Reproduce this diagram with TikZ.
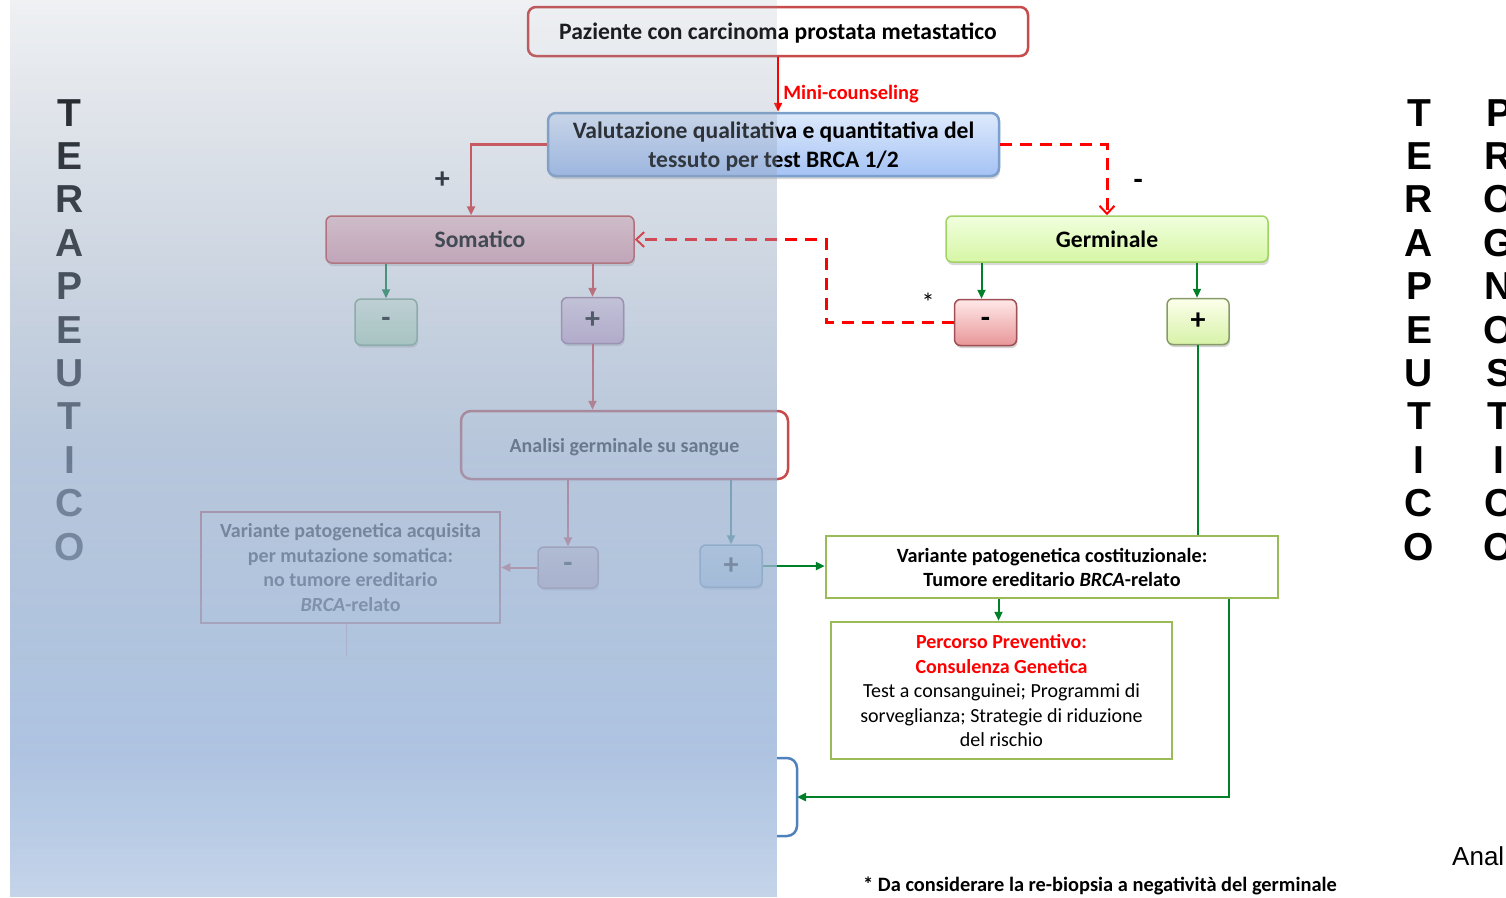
\documentclass[tikz,border=0pt]{standalone}
\usepackage{fontspec}
\setmainfont{Carlito}
\newfontfamily\arialfont{Liberation Sans}
\usetikzlibrary{arrows.meta}
\usetikzlibrary{calc, positioning, shadows}

\definecolor{rossobordo}{RGB}{200,75,75}
\definecolor{rossovivo}{RGB}{255,0,0}
\definecolor{rossolinea}{RGB}{225,55,55}
\definecolor{verdebordo}{RGB}{155,187,89}
\definecolor{verdelinea}{RGB}{0,128,40}
\definecolor{blubordo}{RGB}{79,129,189}
\definecolor{velotop}{RGB}{145,158,176}
\definecolor{velomid}{RGB}{152,174,204}
\definecolor{velobas}{RGB}{165,189,222}
\definecolor{velobot}{RGB}{197,212,233}

\tikzset{
  testo/.style={font=\fontsize{23.6}{29}\selectfont\bfseries, text depth=0pt},
  testino/.style={font=\fontsize{20}{24.5}\selectfont, text depth=0pt},
  segno/.style={font=\fontsize{30}{30}\selectfont\bfseries, inner sep=0pt, text=black},
  tondo/.style={draw, line width=2.5pt, rounded corners=8pt, align=center, inner sep=0pt},
  quadro/.style={draw, line width=2.5pt, align=center, inner sep=0pt},
  bottone/.style={draw, line width=1.5pt, rounded corners=6pt, inner sep=0pt, minimum width=62pt, minimum height=46pt,
    segno, drop shadow={opacity=0.35, shadow xshift=1pt, shadow yshift=-2.5pt}},
  ombra/.style={drop shadow={opacity=0.3, shadow xshift=1pt, shadow yshift=-3pt}},
  freccia/.style={line width=2.5pt, -{Triangle[length=9pt, width=8pt]}},
  tratteggio/.style={line width=3pt, rossovivo, dash pattern=on 12pt off 8pt, -{Straight Barb[length=8pt, width=15pt, line width=2pt]}},
  lettera/.style={font=\arialfont\bfseries\fontsize{39}{39}\selectfont, anchor=base, inner sep=0pt}
}

\begin{document}
\begin{tikzpicture}[x=1pt, y=-1pt]
  \useasboundingbox (0,0) rectangle (1506,897);

  % boxes
  \node[tondo, testo, draw=rossobordo, fill=white, minimum width=500pt, minimum height=49pt] (paziente) at (778,31.5) {Paziente con carcinoma prostata metastatico};
  \node[tondo, testo, draw=blubordo!75, top color={rgb,255:red,222;green,234;blue,252}, bottom color={rgb,255:red,164;green,194;blue,244},
        minimum width=451pt, minimum height=63pt, ombra] (valutazione) at (773.5,144.5) {Valutazione qualitativa e quantitativa del\\tessuto per test BRCA 1/2};

  \node[tondo, testo, rounded corners=6pt, line width=1.5pt, draw=rossobordo, top color={rgb,255:red,248;green,205;blue,210}, bottom color={rgb,255:red,232;green,165;blue,178},
        minimum width=308pt, minimum height=47pt, ombra] (somatico) at (480,239.5) {Somatico};
  \node[tondo, testo, rounded corners=6pt, line width=1.5pt, draw={rgb,255:red,160;green,210;blue,100}, top color={rgb,255:red,240;green,255;blue,222}, bottom color={rgb,255:red,214;green,246;blue,165},
        minimum width=322pt, minimum height=46pt, ombra] (germinale) at (1107,239) {Germinale};

  \node[bottone, draw={rgb,255:red,130;green,175;blue,140}, top color={rgb,255:red,235;green,250;blue,232}, bottom color={rgb,255:red,190;green,230;blue,190}] (smeno) at (386,322) {-};
  \node[bottone, draw={rgb,255:red,165;green,120;blue,160}, top color={rgb,255:red,240;green,220;blue,238}, bottom color={rgb,255:red,215;green,175;blue,210}] (spiu) at (592.5,320.5) {+};
  \node[bottone, draw={rgb,255:red,160;green,80;blue,85}, top color={rgb,255:red,255;green,232;blue,232}, bottom color={rgb,255:red,232;green,150;blue,152}] (gmeno) at (985.5,322.5) {-};
  \node[bottone, draw={rgb,255:red,135;green,155;blue,105}, top color={rgb,255:red,252;green,255;blue,235}, bottom color={rgb,255:red,215;green,242;blue,168}] (gpiu) at (1198,321.5) {+};

  \node[tondo, testo, font=\fontsize{20}{24}\selectfont\bfseries, rounded corners=10pt, draw=rossobordo, fill=white, minimum width=327pt, minimum height=68pt] (sangue) at (624.5,445) {Analisi germinale su sangue};
  \node[bottone, minimum width=60pt, minimum height=41pt, draw={rgb,255:red,170;green,110;blue,120}, top color={rgb,255:red,240;green,215;blue,220}, bottom color={rgb,255:red,215;green,170;blue,180}] (ameno) at (568,567.5) {-};
  \node[bottone, minimum height=42pt, draw={rgb,255:red,110;green,150;blue,175}, top color={rgb,255:red,225;green,240;blue,250}, bottom color={rgb,255:red,185;green,215;blue,235}] (apiu) at (731,566) {+};

  \node[quadro, testino, font=\fontsize{20}{24.5}\selectfont\bfseries, draw=rossobordo, minimum width=299pt, minimum height=111pt] (acquisita) at (350.5,567.5)
    {Variante patogenetica acquisita\\per mutazione somatica:\\no tumore ereditario\\\textit{BRCA}-relato};
  \node[quadro, testino, font=\fontsize{20.2}{24}\selectfont\bfseries, draw=verdebordo, fill=white, minimum width=452pt, minimum height=62pt] (costituz) at (1052,567)
    {Variante patogenetica costituzionale:\\Tumore ereditario \textit{BRCA}-relato};
  \node[quadro, testino, draw=verdebordo, fill=white, minimum width=341pt, minimum height=137pt] (percorso) at (1001.5,690.5)
    {{\bfseries\color{rossovivo}Percorso Preventivo:}\\{\bfseries\color{rossovivo}Consulenza Genetica}\\Test a consanguinei; Programmi di\\sorveglianza; Strategie di riduzione\\del rischio};

  \coordinate (tratt) at (797,797); % bracket tip

  % connectors
  \draw[freccia, rossovivo] (paziente.south) -- (paziente.south |- valutazione.north)
    node[pos=0.68, anchor=west, xshift=4pt, inner sep=0pt, font=\fontsize{20.4}{24}\selectfont\bfseries, text=rossovivo] (minic) {Mini-counseling};
  \draw[freccia, rossolinea] (valutazione.west) -| ([xshift=-9pt]somatico.north)
    node[pos=0.75, left=20pt, segno] (segnopiu) {+};
  \draw[tratteggio] (valutazione.east) -| (germinale.north)
    node[pos=0.78, right=25pt, segno] (segnomeno) {-};
  \draw[tratteggio] (gmeno.west) -- ++(-127,0) |- (somatico.east);
  \node[font=\fontsize{26}{26}\selectfont, inner sep=0pt] (stella) at (928,302) {*};

  \draw[freccia, verdelinea!80!teal, line width=2pt] (somatico.south -| smeno.north) -- (smeno.north);
  \draw[freccia, rossolinea, line width=2pt] (somatico.south -| spiu.north) -- (spiu.north);
  \draw[freccia, verdelinea, line width=2pt] ([xshift=-4pt]germinale.south -| gmeno.north) -- ([xshift=-4pt]gmeno.north);
  \draw[freccia, verdelinea, line width=2pt] ([xshift=-1pt]germinale.south -| gpiu.north) -- ([xshift=-1pt]gpiu.north);

  \draw[freccia, rossolinea, line width=2pt] (spiu.south) -- (spiu.south |- sangue.north);
  \draw[freccia, rossolinea, line width=2pt] (sangue.south -| ameno.north) -- (ameno.north);
  \draw[freccia, teal!70!gray, line width=2pt] (sangue.south -| apiu.north) -- (apiu.north);
  \draw[freccia, rossolinea, line width=2pt] (ameno.west) -- (acquisita.east |- ameno.west);
  \draw[freccia, verdelinea] (apiu.east) -- (costituz.west |- apiu.east);
  \draw[line width=1pt, rossobordo!60] ([xshift=-4pt]acquisita.south) -- ++(0,32);

  \draw[line width=2.5pt, verdelinea] (gpiu.south) -- (gpiu.south |- costituz.north);
  \draw[freccia, verdelinea, line width=2pt] ([xshift=-3pt]costituz.south -| percorso.north) -- ([xshift=-3pt]percorso.north);
  \draw[freccia, verdelinea] ([xshift=177pt]costituz.south) |- (tratt);
  \draw[line width=2.5pt, blubordo, rounded corners=10pt] (tratt) ++(-20,-39) -| (tratt) |- ++(-20,39); % bracket

  % left column, under the veil
  \foreach \l [count=\i from 0] in {T,E,R,A,P,E,U,T,I,C,O}
    \node[lettera] (sx\i) at (69.5,126+43.4*\i) {\l};

  % veil, in thin bands
  \foreach \y in {0,3,...,894}{
    \ifdim\y pt<450pt
      \pgfmathsetmacro\mix{\y/450*100}\pgfmathsetmacro\alfa{0.15+\y/450*0.55}\colorlet{velo}{velomid!\mix!velotop}
    \else\ifdim\y pt<750pt
      \pgfmathsetmacro\mix{(\y-450)/300*100}\pgfmathsetmacro\alfa{0.7+(\y-450)/300*0.2}\colorlet{velo}{velobas!\mix!velomid}
    \else
      \pgfmathsetmacro\mix{(\y-750)/147*100}\pgfmathsetmacro\alfa{0.9+(\y-750)/147*0.1}\colorlet{velo}{velobot!\mix!velobas}\fi\fi
    \fill[velo, fill opacity=\alfa] (10,\y) rectangle (777,\y+3);
  }

  % right columns
  \foreach \l [count=\i from 0] in {T,E,R,A,P,E,U,T,I,C,O}
    \node[lettera] (dx\i) at (1419,126+43.4*\i) {\l};
  \foreach \l [count=\i from 0] in {P,R,O,G,N,O,S,T,I,C,O}
    \node[lettera] (pr\i) at (1499,126+43.4*\i) {\l};

  \node[font=\arialfont\fontsize{26}{26}\selectfont, anchor=base west, inner sep=0pt] (anal) at (1452,865) {Anal};
  \node[font=\fontsize{20.4}{24}\selectfont\bfseries, anchor=base west, inner sep=0pt] (nota) at (863,891) {* Da considerare la re-biopsia a negatività del germinale};
\end{tikzpicture}
\end{document}
